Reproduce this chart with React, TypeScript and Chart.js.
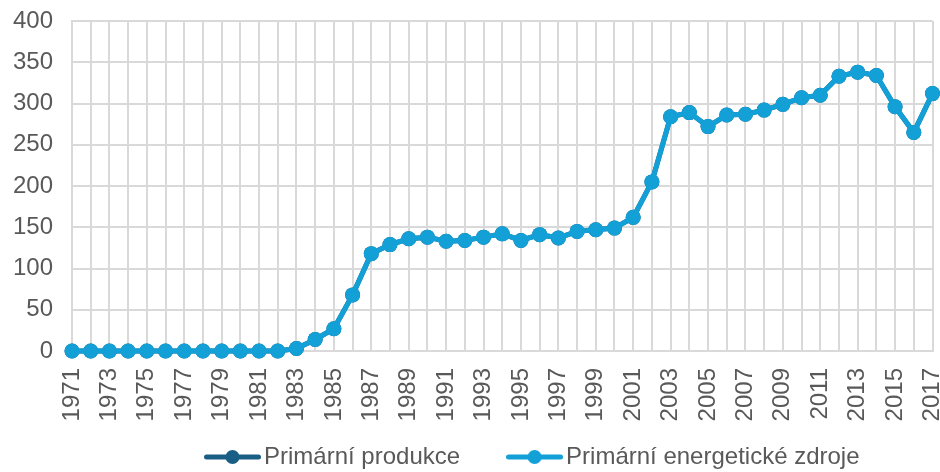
import React, { useEffect, useRef } from "react";
import { Chart, registerables } from "chart.js";

Chart.register(...registerables);

const years = [
  "1971", "1972", "1973", "1974", "1975", "1976", "1977", "1978", "1979", "1980",
  "1981", "1982", "1983", "1984", "1985", "1986", "1987", "1988", "1989", "1990",
  "1991", "1992", "1993", "1994", "1995", "1996", "1997", "1998", "1999", "2000",
  "2001", "2002", "2003", "2004", "2005", "2006", "2007", "2008", "2009", "2010",
  "2011", "2012", "2013", "2014", "2015", "2016", "2017",
];

const primarniProdukce = [
  0, 0, 0, 0, 0, 0, 0, 0, 0, 0,
  0, 0, 3, 14, 27, 68, 118, 129, 136, 138,
  133, 134, 138, 142, 134, 141, 137, 145, 147, 149,
  162, 205, 284, 289, 272, 286, 287, 292, 299, 307,
  310, 333, 338, 334, 296, 265, 312,
];

const primarniEnergetickeZdroje = [
  0, 0, 0, 0, 0, 0, 0, 0, 0, 0,
  0, 0, 3, 14, 27, 68, 118, 129, 136, 138,
  133, 134, 138, 142, 134, 141, 137, 145, 147, 149,
  162, 205, 284, 289, 272, 286, 287, 292, 299, 307,
  310, 333, 338, 334, 296, 265, 312,
];

const seriesNames = ["Primární produkce", "Primární energetické zdroje"];
const seriesColors = ["#1a5e86", "#12a0d7"];

const yMin = 0;
const yMax = 400;
const yStep = 50;

const TEXT = "#595959";
const GRID = "#d9d9d9";
const FONT = "'Liberation Sans', Arial, Helvetica, sans-serif";
const LEGEND_PADDING = 55;

function makeMarker(color: string): HTMLCanvasElement {
  const c = document.createElement("canvas");
  c.width = 57;
  c.height = 16;
  const ctx = c.getContext("2d")!;
  ctx.strokeStyle = color;
  ctx.lineWidth = 5;
  ctx.lineCap = "round";
  ctx.beginPath();
  ctx.moveTo(2.5, 8);
  ctx.lineTo(54.5, 8);
  ctx.stroke();
  ctx.fillStyle = color;
  ctx.beginPath();
  ctx.arc(28.5, 8, 7, 0, Math.PI * 2);
  ctx.fill();
  return c;
}

const legendPlacer = {
  id: "legendPlacer",
  afterLayout(chart: any) {
    const lg = chart.legend;
    if (!lg || !lg.lineWidths) return;
    const start = (lg.left + LEGEND_PADDING + lg.right - lg.lineWidths[0]) / 2;
    const dx = 213 - start;
    lg.left += dx;
    lg.right += dx;
    const dy = 457 - (lg.top + LEGEND_PADDING + 12);
    lg.top += dy;
    lg.bottom = chart.height;
    lg.height = lg.bottom - lg.top;
  },
};

export default function App() {
  const ref = useRef<HTMLCanvasElement | null>(null);

  useEffect(() => {
    if (!ref.current) return;
    const markers = seriesColors.map(makeMarker);
    const chart = new Chart(ref.current, {
      type: "line",
      data: {
        labels: years,
        datasets: [
          {
            label: seriesNames[1],
            data: primarniEnergetickeZdroje,
            borderColor: seriesColors[1],
            backgroundColor: seriesColors[1],
            pointBackgroundColor: seriesColors[1],
            pointBorderColor: seriesColors[1],
            borderWidth: 5,
            pointRadius: 7.5,
            pointBorderWidth: 0,
            tension: 0,
            clip: false as any,
          },
          {
            label: seriesNames[0],
            data: primarniProdukce,
            borderColor: seriesColors[0],
            backgroundColor: seriesColors[0],
            pointBackgroundColor: seriesColors[0],
            pointBorderColor: seriesColors[0],
            borderWidth: 5,
            pointRadius: 7.5,
            pointBorderWidth: 0,
            tension: 0,
            clip: false as any,
          },
        ],
      },
      options: {
        animation: false,
        responsive: false,
        devicePixelRatio: 1,
        layout: { padding: { top: 21, right: 3, bottom: 0, left: 0 } },
        scales: {
          x: {
            grid: { color: GRID, lineWidth: 2, drawTicks: false },
            border: { color: GRID, width: 2 },
            ticks: {
              autoSkip: false,
              minRotation: 90,
              maxRotation: 90,
              padding: 17,
              color: TEXT,
              font: { family: FONT, size: 24 },
              callback: (_v: any, i: number) => (i % 2 === 0 ? years[i] : ""),
            },
            afterFit: (s: any) => {
              s.height = 81;
              s.paddingLeft = 0;
              s.paddingRight = 0;
            },
          },
          y: {
            min: yMin,
            max: yMax,
            grid: { color: GRID, lineWidth: 2, drawTicks: false },
            border: { color: GRID, width: 2 },
            ticks: {
              stepSize: yStep,
              padding: 19,
              color: TEXT,
              font: { family: FONT, size: 24 },
            },
            afterFit: (s: any) => {
              s.width = 72;
              s.paddingTop = 0;
              s.paddingBottom = 0;
            },
          },
        },
        plugins: {
          tooltip: { enabled: false },
          legend: {
            position: "bottom",
            maxHeight: 40,
            labels: {
              usePointStyle: true,
              pointStyleWidth: 39,
              padding: LEGEND_PADDING,
              color: TEXT,
              font: { family: FONT, size: 24 },
              generateLabels: () =>
                [0, 1].map((k) => ({
                  text: seriesNames[k],
                  pointStyle: markers[k],
                  fillStyle: seriesColors[k],
                  strokeStyle: seriesColors[k],
                  lineWidth: 0,
                  hidden: false,
                  fontColor: TEXT,
                  datasetIndex: k === 0 ? 1 : 0,
                })) as any,
            },
          },
        },
      },
      plugins: [legendPlacer],
    });
    return () => chart.destroy();
  }, []);

  return (
    <div
      style={{
        position: "absolute",
        left: 0,
        top: 0,
        width: 940,
        height: 472,
        overflow: "hidden",
        background: "#ffffff",
      }}
    >
      <canvas ref={ref} width={940} height={472} style={{ display: "block" }} />
    </div>
  );
}
